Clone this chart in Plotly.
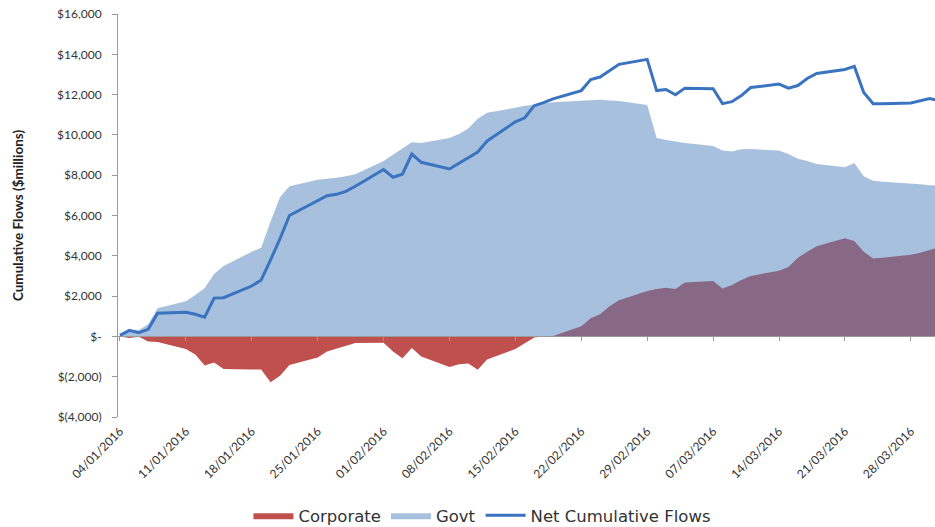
import plotly.graph_objects as go

# Business days, 4 Jan – 31 Mar 2016
dates = [
    "2016-01-04", "2016-01-05", "2016-01-06", "2016-01-07", "2016-01-08",
    "2016-01-11", "2016-01-12", "2016-01-13", "2016-01-14", "2016-01-15",
    "2016-01-18", "2016-01-19", "2016-01-20", "2016-01-21", "2016-01-22",
    "2016-01-25", "2016-01-26", "2016-01-27", "2016-01-28", "2016-01-29",
    "2016-02-01", "2016-02-02", "2016-02-03", "2016-02-04", "2016-02-05",
    "2016-02-08", "2016-02-09", "2016-02-10", "2016-02-11", "2016-02-12",
    "2016-02-15", "2016-02-16", "2016-02-17", "2016-02-18", "2016-02-19",
    "2016-02-22", "2016-02-23", "2016-02-24", "2016-02-25", "2016-02-26",
    "2016-02-29", "2016-03-01", "2016-03-02", "2016-03-03", "2016-03-04",
    "2016-03-07", "2016-03-08", "2016-03-09", "2016-03-10", "2016-03-11",
    "2016-03-14", "2016-03-15", "2016-03-16", "2016-03-17", "2016-03-18",
    "2016-03-21", "2016-03-22", "2016-03-23", "2016-03-24", "2016-03-25",
    "2016-03-28", "2016-03-29", "2016-03-30", "2016-03-31",
]

# Cumulative flows, $ millions
corporate = [
    0, -80, -20, -250, -280,
    -620, -900, -1450, -1300, -1620,
    -1640, -1640, -2280, -1950, -1420,
    -1050, -750, -600, -480, -330,
    -320, -750, -1080, -580, -1000,
    -1520, -1380, -1350, -1650, -1150,
    -620, -320, -60, 0, 20,
    500, 900, 1100, 1500, 1800,
    2250, 2350, 2420, 2350, 2680,
    2750, 2380, 2550, 2800, 3000,
    3260, 3450, 3900, 4200, 4480,
    4870, 4740, 4200, 3870, 3900,
    4050, 4150, 4300, 4420,
]

govt = [
    0, 320, 300, 600, 1400,
    1750, 2050, 2400, 3100, 3500,
    4200, 4400, 5700, 6900, 7450,
    7780, 7830, 7870, 7950, 8050,
    8700, 9000, 9300, 9630, 9600,
    9850, 10050, 10320, 10800, 11100,
    11350, 11450, 11500, 11570, 11620,
    11700, 11730, 11740, 11710, 11680,
    11480, 9850, 9750, 9680, 9600,
    9450, 9230, 9170, 9290, 9300,
    9220, 9050, 8820, 8700, 8560,
    8390, 8600, 7950, 7720, 7680,
    7600, 7550, 7500, 7470,
]

net_flows = [
    50, 300, 180, 350, 1150,
    1200, 1100, 950, 1900, 1920,
    2500, 2800, 3800, 4850, 6000,
    6750, 6980, 7050, 7200, 7450,
    8280, 7900, 8050, 9050, 8640,
    8310, 8600, 8900, 9150, 9700,
    10650, 10850, 11450, 11600, 11790,
    12200, 12750, 12870, 13200, 13500,
    13750, 12200, 12250, 11990, 12320,
    12290, 11550, 11650, 11950, 12350,
    12520, 12320, 12450, 12800, 13050,
    13250, 13400, 12100, 11550, 11540,
    11580, 11680, 11800, 11700,
]

week_ticks = [
    "2016-01-04", "2016-01-11", "2016-01-18", "2016-01-25", "2016-02-01",
    "2016-02-08", "2016-02-15", "2016-02-22", "2016-02-29", "2016-03-07",
    "2016-03-14", "2016-03-21", "2016-03-28",
]
week_labels = [
    "04/01/2016", "11/01/2016", "18/01/2016", "25/01/2016", "01/02/2016",
    "08/02/2016", "15/02/2016", "22/02/2016", "29/02/2016", "07/03/2016",
    "14/03/2016", "21/03/2016", "28/03/2016",
]

y_ticks = [-4000, -2000, 0, 2000, 4000, 6000, 8000, 10000, 12000, 14000, 16000]
y_labels = ["$(4,000)", "$(2,000)", "$-", "$2,000", "$4,000", "$6,000",
            "$8,000", "$10,000", "$12,000", "$14,000", "$16,000"]

FONT = "Lato"
AXIS_GREY = "#9a9a9a"

fig = go.Figure()

fig.add_trace(go.Scatter(
    x=dates, y=corporate, name="Corporate", mode="lines",
    line=dict(width=0, color="#C0504D"),
    fill="tozeroy", fillcolor="#C0504D",
))
fig.add_trace(go.Scatter(
    x=dates, y=govt, name="Govt", mode="lines",
    line=dict(width=0, color="rgba(79,129,189,0.5)"),
    fill="tozeroy", fillcolor="rgba(79,129,189,0.5)",
))
fig.add_trace(go.Scatter(
    x=dates, y=net_flows, name="Net Cumulative Flows", mode="lines",
    line=dict(width=3, color="#3A73BF"),
))

# invisible helper trace that carries the zero-level category axis
fig.add_trace(go.Scatter(
    x=[dates[0]], y=[0], xaxis="x2", mode="markers",
    marker=dict(opacity=0), showlegend=False, hoverinfo="skip",
))

x_range = ["2016-01-03 19:00", "2016-03-30 13:40"]

fig.update_layout(
    width=935, height=527,
    margin=dict(l=118, r=0, t=14, b=110),
    paper_bgcolor="white", plot_bgcolor="white",
    font=dict(family=FONT, color="#333333"),
    showlegend=True,
    legend=dict(
        orientation="h", xref="container", yref="container",
        x=0.516, y=0.022, xanchor="center", yanchor="middle",
        font=dict(family="DejaVu Sans", size=16.5, color="#333333"),
        itemwidth=40, traceorder="normal",
    ),
    xaxis=dict(
        type="date", range=x_range,
        tickmode="array", tickvals=week_ticks, ticktext=week_labels,
        tickangle=-45, tickfont=dict(size=12, color="#333333"),
        showline=False, ticks="", showgrid=False, zeroline=False,
        ticklabelstandoff=4,
    ),
    xaxis2=dict(
        type="date", range=x_range, overlaying="x",
        anchor="free", position=0.2,
        tickmode="array", tickvals=week_ticks,
        showticklabels=False, ticks="outside", ticklen=4,
        tickcolor=AXIS_GREY, showline=True, linecolor=AXIS_GREY,
        linewidth=1, showgrid=False, zeroline=False,
    ),
    yaxis=dict(
        range=[-4000, 16000],
        tickmode="array", tickvals=y_ticks, ticktext=y_labels,
        tickfont=dict(size=12, color="#333333"),
        showline=True, linecolor=AXIS_GREY, linewidth=1,
        ticks="outside", ticklen=5, tickcolor=AXIS_GREY,
        showgrid=False, zeroline=False,
        ticklabelstandoff=8,
        title=dict(
            text="<b>Cumulative Flows ($millions)</b>",
            font=dict(size=13.5, color="#222222"),
            standoff=30,
        ),
    ),
)

fig.write_html("out.html")
